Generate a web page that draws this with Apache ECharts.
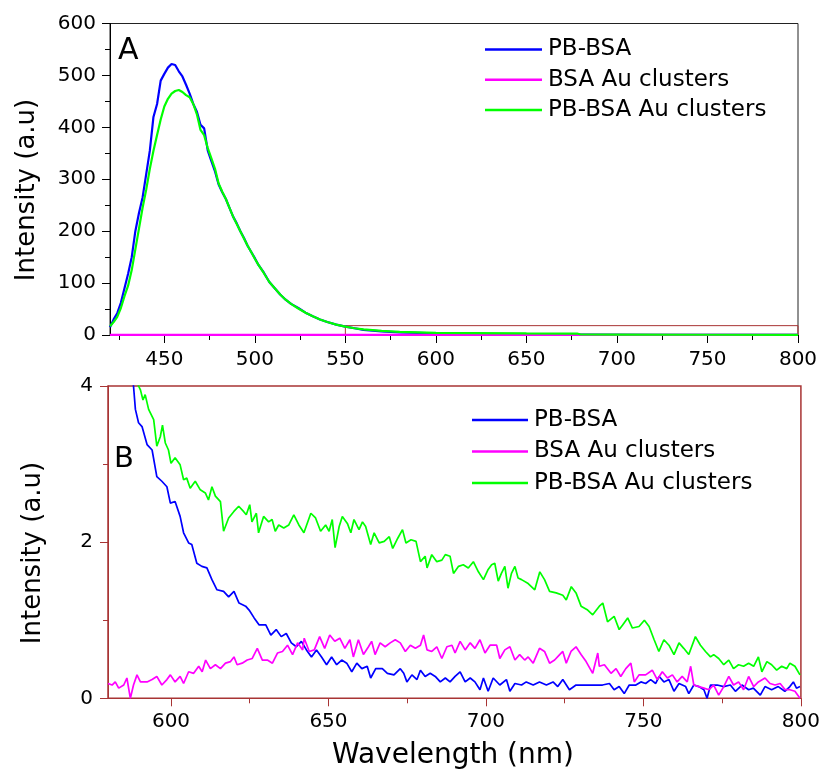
<!DOCTYPE html>
<html>
<head>
<meta charset="utf-8">
<script src="https://cdn.jsdelivr.net/npm/echarts@6/dist/echarts.min.js"></script>
<style>html,body{margin:0;padding:0;background:#fff}#c{width:823px;height:773px}</style>
</head>
<body>
<div id="c"></div>
<script>
// ---------- Panel A data ----------
const seriesNames = ['PB-BSA', 'BSA Au clusters', 'PB-BSA Au clusters'];
const topXTicksMajor = [450, 500, 550, 600, 650, 700, 750, 800];
const topXTicksMinor = [425, 475, 525, 575, 625, 675, 725, 775];
const botXTicksMajor = [600, 650, 700, 750, 800];
const botXTicksMinor = [625, 675, 725, 775];
const zoomBoxX = [550, 800];
const zoomBoxY = [0, 18];

const topPBBSA = [[420,15],[422,30],[424,42],[426,62],[428,90],[430,118],[432,150],[434,200],[436,235],[438,265],[440,310],[442,355],[444,420],[446,445],[448,490],[450,503],[452,515],[454,522],[456,520],[458,508],[460,498],[462,482],[464,465],[466,445],[468,430],[470,405],[472,398],[474,355],[476,335],[478,315],[480,290],[482,275],[484,262],[486,245],[488,228],[490,215],[492,200],[494,187],[496,172],[498,160],[500,148],[502,135],[505,120],[508,102],[511,90],[514,78],[517,68],[520,60],[524,52],[528,43],[532,36],[536,30],[540,25],[545,20],[550,16],[555,13],[560,10],[570,7],[580,5],[590,4],[600,3],[620,2],[650,1.5],[680,1],[720,0.5],[760,0.3],[800,0.2]];
const topBSAAu = [[420,0.3],[500,0.3],[600,0.3],[700,0.3],[800,0.3]];
const topPBBSAAu = [[420,17],[422,25],[424,35],[426,52],[428,75],[430,95],[432,125],[434,165],[436,205],[438,245],[440,280],[442,320],[444,355],[446,385],[448,415],[450,440],[452,455],[454,465],[456,470],[458,472],[460,468],[462,462],[464,458],[466,445],[468,425],[470,395],[472,385],[474,360],[476,340],[478,320],[480,292],[482,276],[484,262],[486,245],[488,228],[490,214],[492,200],[494,186],[496,172],[498,160],[500,147],[502,135],[505,119],[508,102],[511,90],[514,78],[517,68],[520,60],[524,51],[528,43],[532,36],[536,30],[540,25],[545,20],[550,16],[555,13],[560,11],[570,8],[580,6],[590,5],[600,4],[620,3.5],[650,3],[678,2.8],[680,1],[700,0.8],[750,0.5],[800,0.4]];

// ---------- Panel B data ----------
const botPBBSA = [[582,5.5],[585,4.8],[587,4.3],[588.1,4.0],[588.7,3.7],[589.7,3.53],[590.8,3.48],[592.4,3.25],[594,3.18],[595.5,2.84],[597.1,2.78],[598.7,2.71],[599.8,2.5],[601.3,2.52],[602.9,2.33],[604,2.12],[605.6,1.99],[606.6,1.97],[608.2,1.73],[609.8,1.69],[611.4,1.67],[613,1.52],[614.6,1.39],[616.7,1.37],[618.3,1.30],[620,1.37],[621.6,1.22],[623.7,1.18],[624.8,1.13],[626.4,1.03],[628,0.94],[630.1,0.94],[631.7,0.81],[633.4,0.88],[635,0.79],[636.6,0.83],[638.2,0.71],[639.8,0.66],[641.4,0.73],[643,0.62],[644.6,0.53],[646.2,0.62],[647.8,0.53],[649.4,0.43],[651,0.53],[652.6,0.43],[654.2,0.49],[655.8,0.45],[657.4,0.34],[659,0.45],[660.6,0.38],[662.3,0.41],[663.4,0.26],[665,0.38],[667.1,0.38],[668.7,0.32],[670.8,0.30],[672.8,0.38],[673.9,0.32],[674.9,0.21],[676.5,0.30],[678.1,0.24],[679.2,0.36],[680.7,0.28],[682.3,0.32],[683.9,0.28],[685.5,0.21],[687.1,0.26],[688.6,0.21],[690.2,0.28],[691.8,0.34],[693.4,0.21],[695,0.26],[696.5,0.21],[698.1,0.11],[699.2,0.26],[700.7,0.09],[702.3,0.26],[704.4,0.17],[706.5,0.24],[707.6,0.09],[709.2,0.19],[711.3,0.17],[712.8,0.21],[715,0.17],[717,0.21],[719.2,0.17],[721.3,0.21],[722.8,0.15],[724.4,0.24],[726.5,0.11],[728.6,0.17],[730.7,0.17],[732.8,0.17],[734.9,0.17],[737,0.17],[739.2,0.19],[740.7,0.11],[742.3,0.15],[743.9,0.06],[745.5,0.17],[747.6,0.17],[749.2,0.21],[750.7,0.19],[752.3,0.24],[753.9,0.19],[755,0.28],[756.5,0.21],[758.1,0.24],[759.7,0.09],[761.3,0.19],[763.4,0.15],[764.4,0.06],[766,0.17],[767.6,0.15],[769.2,0.11],[770.2,0.0],[771.3,0.17],[773.4,0.17],[775.5,0.15],[777.6,0.17],[779.2,0.09],[781.3,0.17],[783.4,0.11],[784.9,0.13],[787.1,0.04],[788.6,0.15],[790.7,0.11],[792.8,0.15],[794.9,0.09],[796.5,0.15],[797.6,0.21],[798.6,0.13],[799.7,0.15]];
const botBSAAu = [[580,0.19],[581.3,0.17],[582.3,0.21],[583.4,0.13],[585,0.17],[586,0.26],[587.1,0.0],[588.1,0.17],[589.2,0.30],[590.3,0.21],[592.4,0.21],[594,0.24],[595.5,0.28],[597.1,0.17],[598.7,0.24],[599.8,0.30],[601.3,0.21],[602.9,0.28],[604,0.19],[605.6,0.34],[607.2,0.32],[608.8,0.41],[609.9,0.34],[611,0.49],[612.5,0.38],[614.1,0.43],[615.7,0.38],[617.3,0.45],[618.9,0.47],[620,0.53],[621,0.43],[622.6,0.45],[624.2,0.49],[625.8,0.51],[627.4,0.64],[629,0.49],[630.6,0.49],[632.2,0.45],[633.8,0.58],[635.4,0.60],[637,0.68],[638.6,0.56],[640.2,0.71],[641.8,0.62],[642.3,0.77],[643.9,0.60],[645.5,0.62],[647.2,0.79],[648.8,0.64],[650.4,0.81],[652,0.73],[653.6,0.77],[655.2,0.64],[656.8,0.75],[657.9,0.53],[659.5,0.75],[661.1,0.56],[662.7,0.66],[663.7,0.73],[664.8,0.56],[666.4,0.71],[668,0.66],[669.6,0.71],[671.2,0.75],[672.8,0.71],[674.4,0.60],[676,0.68],[677.6,0.64],[679.2,0.68],[680.2,0.81],[681.3,0.62],[682.8,0.60],[684.4,0.66],[686,0.51],[687.6,0.66],[689.2,0.68],[690.2,0.58],[691.8,0.73],[693.4,0.62],[695,0.71],[696.5,0.64],[698.1,0.75],[699.7,0.58],[701.3,0.68],[703.4,0.68],[704.4,0.51],[706,0.62],[707.6,0.66],[709.2,0.49],[710.7,0.56],[712.3,0.49],[713.4,0.53],[715,0.45],[717,0.64],[718.6,0.60],[720.2,0.45],[721.8,0.49],[723.4,0.56],[724.4,0.60],[725.5,0.45],[727,0.60],[728.6,0.66],[730.2,0.56],[731.8,0.47],[733.9,0.32],[735.5,0.58],[736,0.41],[737.6,0.43],[739.7,0.32],[741.3,0.38],[742.8,0.28],[744.4,0.38],[746,0.45],[747.1,0.21],[748.6,0.30],[750.7,0.30],[752.8,0.36],[754.4,0.24],[756,0.34],[757.6,0.26],[759.2,0.30],[760.7,0.21],[762.3,0.28],[763.9,0.21],[765,0.41],[766,0.17],[767.6,0.15],[769.2,0.13],[770.8,0.11],[772.3,0.17],[773.9,0.04],[775.5,0.15],[777.1,0.28],[778.6,0.17],[780.2,0.21],[781.8,0.11],[783.4,0.28],[785,0.15],[786.5,0.21],[788.6,0.26],[790.2,0.19],[791.8,0.17],[793.4,0.19],[795,0.11],[796.5,0.11],[798.1,0.09],[799.7,0.0]];
const botPBBSAAu = [[585,4.6],[588,4.3],[589.7,4.0],[590.3,3.95],[591.1,3.82],[591.8,3.89],[592.9,3.70],[594.5,3.57],[595.5,3.23],[596.6,3.35],[597.3,3.50],[598.2,3.27],[599.2,3.18],[600,3.01],[601.3,3.08],[602.9,2.99],[604,2.80],[605,2.82],[606.1,2.69],[607.7,2.78],[609.3,2.67],[610.9,2.63],[611.9,2.54],[613,2.71],[614.1,2.59],[615.7,2.52],[616.7,2.14],[618.3,2.31],[619.9,2.39],[621.5,2.46],[623.1,2.39],[623.9,2.35],[625,2.48],[625.7,2.26],[627.1,2.37],[627.8,2.12],[629.4,2.33],[631,2.26],[632.1,2.29],[633.1,2.14],[634.2,2.22],[635.8,2.18],[637.4,2.22],[639,2.35],[640.6,2.22],[642.2,2.12],[644.4,2.37],[645.9,2.31],[647.5,2.14],[649.1,2.22],[650.2,2.14],[651.2,2.29],[652.1,1.93],[653.4,2.20],[654.4,2.33],[656,2.24],[657.1,2.12],[658.1,2.29],[659.7,2.16],[660.8,2.26],[661.8,2.20],[663.4,1.97],[664.5,2.12],[666.1,1.99],[667.7,2.01],[669.3,2.07],[670.4,1.92],[672,2.05],[673.5,2.16],[674.6,1.99],[676.2,2.03],[677.8,2.01],[679.2,1.75],[680.7,1.82],[681.3,1.67],[682.8,1.84],[684.4,1.75],[686,1.77],[687.1,1.84],[688.6,1.82],[689.7,1.60],[691.3,1.69],[692.8,1.71],[694.4,1.67],[696,1.75],[697.6,1.62],[699.2,1.52],[700.7,1.65],[701.8,1.71],[702.8,1.73],[703.9,1.50],[704.9,1.60],[706,1.69],[707,1.41],[708.1,1.60],[709.2,1.69],[710.2,1.54],[711.3,1.52],[713.4,1.47],[715.5,1.39],[717.1,1.62],[718.6,1.52],[720.2,1.37],[722.3,1.35],[724.4,1.32],[725.5,1.26],[727.1,1.43],[728.6,1.35],[730.2,1.18],[732.3,1.13],[733.9,1.07],[736,1.18],[737.1,1.22],[738.6,0.98],[740.7,1.05],[742.3,0.88],[743.4,0.94],[745,1.03],[746.5,0.90],[748.6,0.92],[750.3,1.00],[751.8,0.92],[753.4,0.75],[754.9,0.60],[756.5,0.75],[758.1,0.68],[759.7,0.56],[761.3,0.71],[762.8,0.64],[764.4,0.56],[766.5,0.79],[768.1,0.68],[769.7,0.60],[771.3,0.53],[772.3,0.56],[773.9,0.51],[775.5,0.43],[777.1,0.49],[778.6,0.38],[780.2,0.43],[781.8,0.41],[783.4,0.45],[785,0.41],[786.5,0.53],[787.6,0.34],[789.2,0.47],[790.7,0.43],[792.3,0.36],[793.9,0.41],[795.5,0.38],[796.5,0.45],[798.1,0.41],[799.7,0.30]];

const colors = ['#0000ff', '#ff00ff', '#00ff00'];
const FONT = 'DejaVu Sans';
const RED = '#a83434';

const chart = echarts.init(document.getElementById('c'), null, {renderer: 'canvas'});

function xMajor(grid, min, max, vals, color, margin) {
  return {gridIndex: grid, type: 'value', min: min, max: max, position: 'bottom',
    axisLine: {show: true, onZero: false, lineStyle: {color: color, width: 1}},
    axisTick: {show: true, customValues: vals, length: 8, lineStyle: {color: color}},
    axisLabel: {show: true, customValues: vals, margin: margin, color: '#000', fontFamily: FONT, fontSize: 20},
    splitLine: {show: false}};
}
function xMinor(grid, min, max, vals, color) {
  return {gridIndex: grid, type: 'value', min: min, max: max, position: 'bottom',
    axisLine: {show: false},
    axisTick: {show: true, customValues: vals, length: 5, lineStyle: {color: color}},
    axisLabel: {show: false}, splitLine: {show: false}};
}
function yAx(grid, min, max, interval, color, margin) {
  return {gridIndex: grid, type: 'value', min: min, max: max, interval: interval, position: 'left',
    axisLine: {show: true, onZero: false, lineStyle: {color: color, width: 1}},
    axisTick: {show: true, length: 8, lineStyle: {color: color}},
    minorTick: {show: true, splitNumber: 2, length: 5, lineStyle: {color: color}},
    axisLabel: {margin: margin, color: '#000', fontFamily: FONT, fontSize: 20},
    splitLine: {show: false}};
}
function line(name, data, xi, yi, color, w) {
  return {name: name, type: 'line', data: data, xAxisIndex: xi, yAxisIndex: yi,
    showSymbol: false, symbol: 'none', lineStyle: {color: color, width: w}, itemStyle: {color: color},
    animation: false, z: 3};
}

const topSeries = [
  line(seriesNames[0], topPBBSA, 0, 0, colors[0], 2.2),
  line(seriesNames[1], topBSAAu, 0, 0, colors[1], 2.2),
  line(seriesNames[2], topPBBSAAu, 0, 0, colors[2], 2.2)
];
topSeries[2].markArea = {silent: true, z: 2,
  itemStyle: {color: 'rgba(0,0,0,0)', borderColor: RED, borderWidth: 1},
  data: [[{coord: [zoomBoxX[0], zoomBoxY[0]]}, {coord: [zoomBoxX[1], zoomBoxY[1]]}]]};

function legendOf(left, top, gap, width) {
  return {orient: 'vertical', left: left, top: top, padding: 0, icon: 'rect',
    itemWidth: width, itemHeight: 2.5, itemGap: gap,
    textStyle: {fontFamily: FONT, fontSize: 23, color: '#000', padding: [0, 0, 0, 1]},
    data: seriesNames, selectedMode: false};
}

chart.setOption({
  animation: false,
  backgroundColor: '#fff',
  grid: [
    {left: 110, top: 23.5, width: 688, height: 311.5, show: true, borderColor: '#222', borderWidth: 1, backgroundColor: 'transparent'},
    {left: 108, top: 386, width: 694, height: 312.3, show: true, borderColor: RED, borderWidth: 1.5, backgroundColor: 'transparent'}
  ],
  xAxis: [
    xMajor(0, 420, 800, topXTicksMajor, '#000', 15),
    xMinor(0, 420, 800, topXTicksMinor, '#000'),
    xMajor(1, 580, 800, botXTicksMajor, RED, 13),
    xMinor(1, 580, 800, botXTicksMinor, RED)
  ],
  yAxis: [
    yAx(0, 0, 600, 100, '#000', 14),
    yAx(1, 0, 4, 2, RED, 15)
  ],
  legend: [
    legendOf(485, 38, 7.3, 57),
    legendOf(472, 408.5, 8.5, 56)
  ],
  series: topSeries.concat([
    line(seriesNames[0], botPBBSA, 2, 1, colors[0], 1.7),
    line(seriesNames[1], botBSAAu, 2, 1, colors[1], 1.7),
    line(seriesNames[2], botPBBSAAu, 2, 1, colors[2], 1.7)
  ]),
  graphic: [
    {type: 'text', left: 118, top: 36, style: {text: 'A', fontFamily: FONT, fontSize: 30, fill: '#000'}},
    {type: 'text', left: 114, top: 445, style: {text: 'B', fontFamily: FONT, fontSize: 29, fill: '#000'}},
    {type: 'text', x: 27.5, y: 190, rotation: Math.PI / 2,
      style: {text: 'Intensity (a.u)', fontFamily: FONT, fontSize: 26, fill: '#000', align: 'center', verticalAlign: 'middle'}},
    {type: 'text', x: 33.5, y: 553, rotation: Math.PI / 2,
      style: {text: 'Intensity (a.u)', fontFamily: FONT, fontSize: 26, fill: '#000', align: 'center', verticalAlign: 'middle'}},
    {type: 'text', x: 453, y: 756,
      style: {text: 'Wavelength (nm)', fontFamily: FONT, fontSize: 28, fill: '#000', align: 'center', verticalAlign: 'middle'}}
  ]
});
</script>
</body>
</html>
